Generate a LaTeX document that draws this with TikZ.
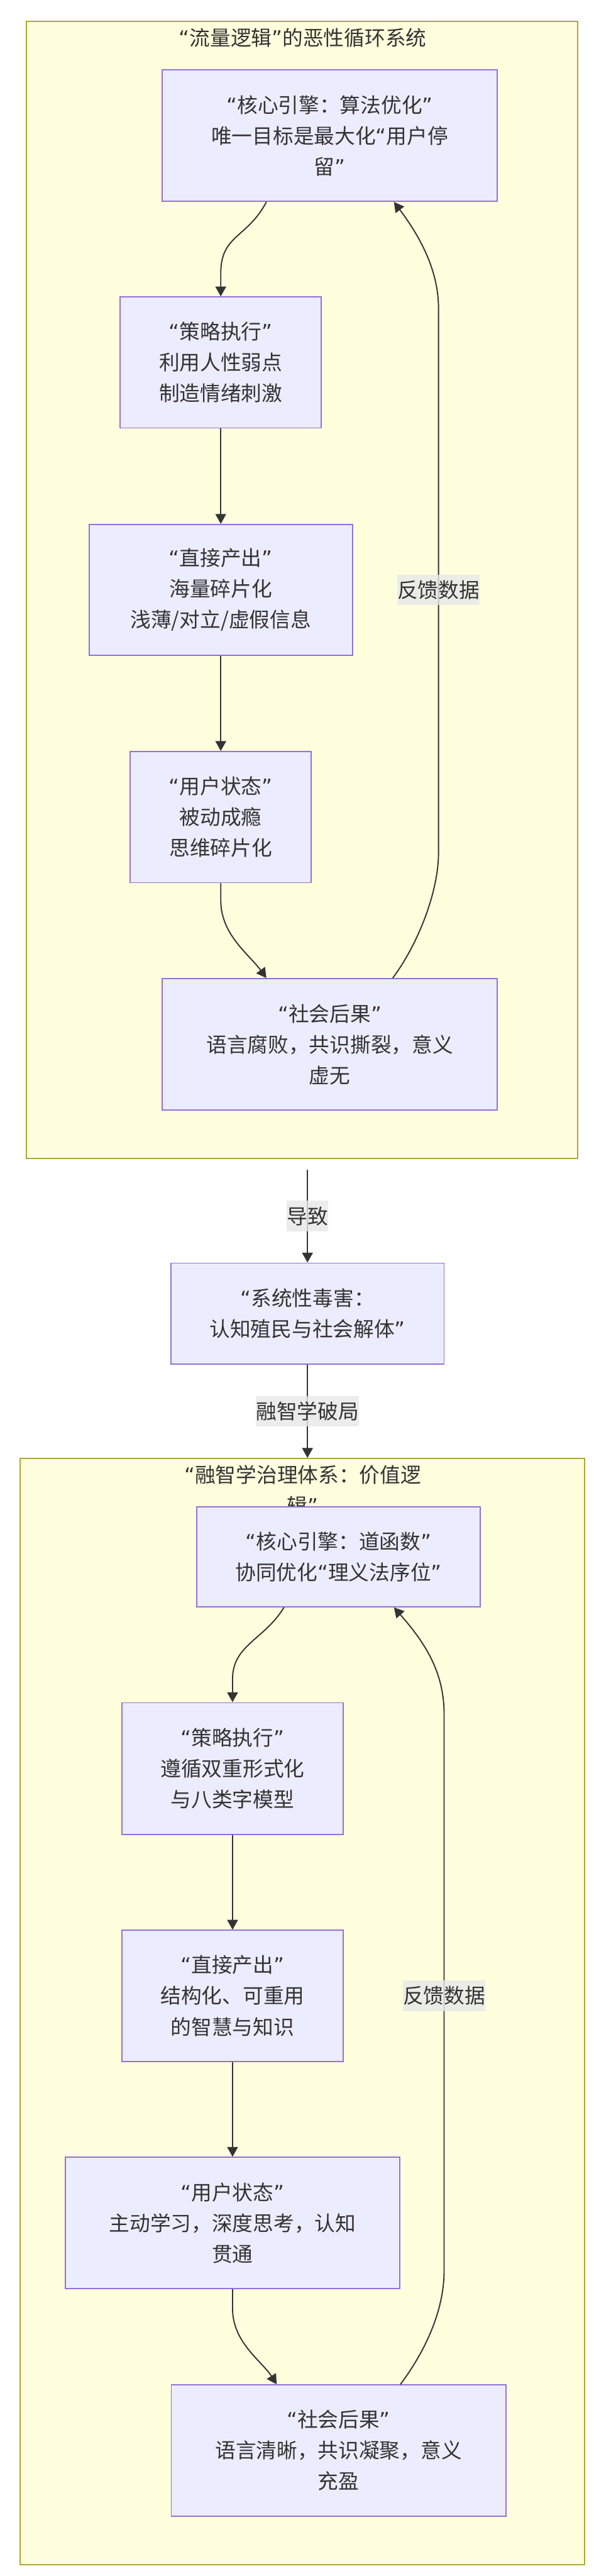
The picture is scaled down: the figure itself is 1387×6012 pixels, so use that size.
\documentclass[tikz,border=0pt]{standalone}
\usepackage{fontspec}
\setmainfont{Noto Sans CJK SC}
\newfontfamily\qfont{DejaVu Sans}
\usetikzlibrary{arrows.meta,calc}
\definecolor{clfill}{HTML}{FFFFDE}
\definecolor{cldraw}{HTML}{AAAA33}
\definecolor{ndfill}{HTML}{ECECFF}
\definecolor{nddraw}{HTML}{9370DB}
\definecolor{edgec}{HTML}{333333}
\definecolor{textc}{HTML}{333333}
\definecolor{lblbg}{HTML}{E8E8E8}
\newcommand\oq{{\qfont “}}
\newcommand\cq{{\qfont ”}}
\tikzset{
  txt/.style={font=\fontsize{12pt}{18pt}\selectfont, text=textc, align=center},
  cluster/.style={draw=cldraw, fill=clfill, line width=0.75pt, inner sep=0pt},
  box/.style={txt, draw=nddraw, fill=ndfill, line width=0.7pt, inner sep=0pt},
  edge/.style={draw=edgec, line width=0.7pt, -{Triangle[length=5.75pt,width=6.25pt]}},
  plain/.style={draw=edgec, line width=0.7pt},
  lbl/.style={txt, fill=lblbg, fill opacity=0.8, text opacity=1, inner xsep=0pt, inner ysep=0pt, minimum height=17.75pt}
}
\begin{document}
\begin{tikzpicture}[x=0.25pt,y=-0.25pt]
\useasboundingbox[fill=white] (0,0) rectangle (1387,6012);
% clusters
\node[cluster, minimum width=321.75pt, minimum height=663.25pt] (cl1) at (705.5,1376.5) {};
\node[txt] (t1) at (707,89) {\oq 流量逻辑\cq 的恶性循环系统};
\node[cluster, minimum width=329.5pt, minimum height=645.25pt] (cl2) at (706,4694.5) {};
\node[txt] (t2) at (707,3478) {\oq 融智学治理体系：价值逻\\辑\cq};
% nodes
\node[box, minimum width=195.5pt, minimum height=76.75pt] (A) at (770,316.5) {\oq 核心引擎：算法优化\cq\\唯一目标是最大化\oq 用户停\\留\cq};
\node[box, minimum width=117.25pt, minimum height=76.4pt] (B) at (515.5,846) {\oq 策略执行\cq\\利用人性弱点\\制造情绪刺激};
\node[box, minimum width=153.75pt, minimum height=76.25pt] (C) at (515.5,1376.5) {\oq 直接产出\cq\\海量碎片化\\浅薄/对立/虚假信息};
\node[box, minimum width=105.75pt, minimum height=76.5pt] (D) at (515.5,1907) {\oq 用户状态\cq\\被动成瘾\\思维碎片化};
\node[box, minimum width=195.5pt, minimum height=76.75pt] (E) at (770,2437.5) {\oq 社会后果\cq\\语言腐败，共识撕裂，意义\\虚无};
\node[box, minimum width=159.5pt, minimum height=58.75pt] (F) at (718,3065.5) {\oq 系统性毒害：\\认知殖民与社会解体\cq};
\node[box, minimum width=165.75pt, minimum height=58.25pt] (G) at (790.5,3633.5) {\oq 核心引擎：道函数\cq\\协同优化\oq 理义法序位\cq};
\node[box, minimum width=129pt, minimum height=76.75pt] (H) at (543,4127.5) {\oq 策略执行\cq\\遵循双重形式化\\与八类字模型};
\node[box, minimum width=129pt, minimum height=76.5pt] (I) at (543,4658) {\oq 直接产出\cq\\结构化、可重用\\的智慧与知识};
\node[box, minimum width=195pt, minimum height=76.5pt] (J) at (543,5188) {\oq 用户状态\cq\\主动学习，深度思考，认知\\贯通};
\node[box, minimum width=195.25pt, minimum height=76.5pt] (K) at (790.5,5719) {\oq 社会后果\cq\\语言清晰，共识凝聚，意义\\充盈};
% coordinates for cluster connections
\coordinate (c1out) at ($(F.north |- cl1.south)+(0,25)$);
\coordinate (c2in) at (F.south |- cl2.north);
% cluster 1 edges
\draw[edge] ($(A.south)+(-148,0)$) .. controls +(-45,85) and +(0,-90) .. ($(B.north)+(0,-54)$) -- (B.north);
\draw[edge] (B.south) -- (C.north);
\draw[edge] (C.south) -- (D.north);
\draw[edge] (D.south) -- ($(D.south)+(0,40)$) .. controls +(0,80) and +(-40,-55) .. ($(E.north)+(-148,0)$);
\draw[edge] ($(E.north)+(147,0)$) .. controls +(60,-80) and +(0,90) .. (1024,1990) -- node[lbl,pos=0.483]{反馈数据} (1024,720) .. controls +(0,-90) and +(60,80) .. ($(A.south)+(150,0)$);
% between clusters
\draw[edge] (c1out) -- node[lbl]{导致} (F.north);
\draw[edge] (F.south) -- node[lbl]{融智学破局} (c2in);
% cluster 2 edges
\draw[edge] ($(G.south)+(-127.5,0)$) .. controls +(-45,75) and +(0,-80) .. ($(H.north)+(0,-54)$) -- (H.north);
\draw[edge] (H.south) -- (I.north);
\draw[edge] (I.south) -- (J.north);
\draw[edge] (J.south) -- ($(J.south)+(0,45)$) .. controls +(0,80) and +(-35,-55) .. ($(K.north)+(-144.5,0)$);
\draw[edge] ($(K.north)+(144.5,0)$) .. controls +(60,-80) and +(0,90) .. (1037,5300) -- node[lbl,pos=0.494]{反馈数据} (1037,4000) .. controls +(0,-100) and +(70,80) .. ($(G.south)+(129.5,0)$);
\end{tikzpicture}
\end{document}
